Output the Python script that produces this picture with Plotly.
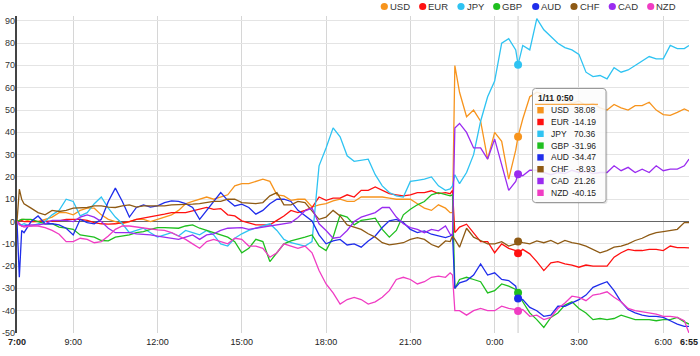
import plotly.graph_objects as go

# ---------------- data ----------------
time_labels = ["7:00", "7:05", "7:10", "7:15",
               "7:30", "7:45", "8:00", "8:15", "8:30", "8:45", "9:00", "9:15", "9:30", "9:45",
               "10:00", "10:15", "10:30", "10:45", "11:00", "11:15", "11:30", "11:45", "12:00", "12:15", "12:30", "12:45",
               "13:00", "13:15", "13:30", "13:45", "14:00", "14:15", "14:30", "14:45", "15:00", "15:15", "15:30", "15:45",
               "16:00", "16:15", "16:30", "16:45", "17:00", "17:15", "17:30", "17:45", "18:00", "18:15", "18:30", "18:45",
               "19:00", "19:15", "19:30", "19:45", "20:00", "20:15", "20:30", "20:45", "21:00", "21:15", "21:30", "21:45",
               "22:00", "22:15", "22:25", "22:30", "22:35", "22:45",
               "23:00", "23:15", "23:30", "23:45", "0:00", "0:15", "0:30", "0:45",
               "0:50",
               "1:00", "1:15", "1:30", "1:45", "2:00", "2:15", "2:30", "2:45", "3:00", "3:15", "3:30", "3:45",
               "4:00", "4:15", "4:30", "4:45", "5:00", "5:15", "5:30", "5:45", "6:00", "6:15", "6:30", "6:45",
               "6:55"]

currencies = ["USD", "EUR", "JPY", "GBP", "AUD", "CHF", "CAD", "NZD"]

USD = [0, 0.5, 1, 1,
       0, 0, 1, 2, 4, 4, 3, 5, 6, 6,
       3, 1, 0, -1, 0, 1, 1, 0, 1, 2, 3, 5,
       8, 9, 10, 11, 10, 11, 12, 16, 17, 17, 18, 19,
       18, 12, 11.5, 9.5, 10, 10, 6.5, 7.5, 8, 9.3, 10, 9,
       9, 11, 11, 11, 11, 10.5, 10, 10, 10, 8, 6, 5,
       7.5, 6, 4, 4, 70, 58,
       47, 50, 45, 28, 40, 36, 19, 32,
       38.08,
       46, 56, 58, 57, 55, 54, 55, 53, 54, 52, 53, 51,
       50, 52.5, 51, 50, 52, 52, 53.5, 50, 48, 47.6, 49, 50.5,
       49.5]

EUR = [0, 0, 0.5, 0,
       0, 0, 0, 0.3, 0.3, 1, 1, 1, 0.5, -0.5,
       -1, -1.2, -1, -0.5, 0, 1, 1.5, 2, 2.5, 3.3, 4, 4,
       4, 4.8, 5.5, 6.3, 5.5, 5.8, 3, 2.5, 0.3, -0.5, -1.5, -1.5,
       -1.5, 0.5, 2.5, 5, 4, 5, 6.3, 11, 9.5, 10.5, 10.5, 12,
       11, 14, 14, 15.5, 14, 12.5, 12, 11.5, 12, 13, 13, 13.8,
       12.5, 13, 12.5, 14, -5, -2.5,
       -1.2, -5, -9, -9, -14, -10, -12, -13,
       -14.19,
       -12.5, -14.5, -18, -22, -18.5, -18, -19, -19.5, -20.5, -19.5, -20, -20,
       -20, -16, -14, -12.5, -13, -13, -12.5, -12.5, -13, -11, -11.7, -11.7,
       -11.8]

JPY = [0, -1, -1.5, -1,
       -2, -1, 0, 3, 5, 10, 9, 2.5, 4, 8,
       11, 6, 2, -1, -5, -4, -3, -5, -7, -6, -5, -6.5,
       -4, -5, -6, -4, -6, -10, -11, -7.5, -5.5, -4, -3, -2,
       -1, -4, -8, -9.5, -10.3, -11, -9, 25, 33, 42, 38, 29.5,
       27, 27.5, 28, 21, 16, 13, 11.5, 11, 18, 18.5, 19, 20,
       16, 14, 14.6, 16, 21, 17,
       22, 30, 45, 56, 63, 80, 82, 77,
       70.36,
       79, 77, 91, 86, 83, 80, 78, 77, 75, 67, 65, 65.5,
       64, 69, 67, 68, 70, 72, 74, 73, 73, 79, 77.6, 77.6,
       79]

GBP = [0, 0.5, 1, 1,
       1, 0, -1, -1, -2.5, -3, -3.5, -6, -6.5, -7,
       -8.5, -8.7, -7, -6.5, -6, -5, -4.5, -3.5, -2.7, -2.7, -3, -3,
       -2, -1.5, -3, -4, -5, -6, -7, -9, -14, -12, -8, -9,
       -18, -14, -10, -8.7, -8, -7, -6, -11, -13, -7, 3, 2,
       -1.5, 0.5, 1, 1.5, -3.5, -7, -4, 3, 5.5, 7.5, 9, 12,
       13, 12, 11.5, 12, -30, -26,
       -25, -26, -27, -32, -31, -28, -29, -30.5,
       -31.96,
       -36, -41, -44, -47.5, -43, -41, -37.5, -36, -39, -41, -44, -43.5,
       -44, -43.5, -42, -43, -44, -44, -44, -44.5, -44, -44, -43, -45,
       -46]

AUD = [0, -25, -4, -5,
       0, 2.5, -1, -1, -1.5, -3, -6, 1, -0.5, -1,
       1, 9, 15, 9, 2, 6.3, 7.5, 6.5, 7, 8.5, 9.3, 9,
       8, 6.3, 1, 5, 9, 13, 9.5, 7, 7.8, 6.3, 3.3, 5,
       8, 10, 10, 9, 5, 2.5, 0.3, -6, -10, -8.7, -8, -10.5,
       -10, -11.5, -8.7, -6.5, -2.7, 0.3, 1, -0.5, -3.5, -5, -4.2, -5.7,
       -6.5, -7.2, -6.5, -5.7, -30, -27.5,
       -26.5, -24, -19, -24, -23, -26, -26.5, -29,
       -34.47,
       -35, -38.5, -40, -42.5, -42, -38, -38, -36.5, -35, -33, -29.5, -28.2,
       -27, -31, -36, -39.5, -41, -42, -42.5, -42.5, -43, -44.5, -46, -47,
       -47]

CHF = [0, 14.5, 10, 8,
       6, 4, 3, 5, 4.5, 5, 6, 6, 6.3, 7,
       7, 6.5, 6.3, 7, 7.5, 6.5, 7, 7, 7, 7, 7.5, 7.5,
       7.5, 7.8, 8, 8.5, 9, 9, 10, 10, 8.5, 8.3, 8, 8.5,
       11.5, 13, 7.5, 7.5, 9, 8.5, 5, 1, 2, 5, 2.5, -1.5,
       -2.5, -3.5, -5.5, -7, -9.5, -10.5, -10, -9.5, -8, -7.2, -8, -10.3,
       -11.5, -8.7, -9, -6.5, -8, -11.5,
       -3, -7, -8.5, -10, -10, -9, -11, -10,
       -8.93,
       -9.5, -10, -8.7, -9.5, -8.5, -10, -8.5, -9.5, -10, -11, -12.5, -14,
       -13, -11.5, -11, -10, -8.5, -7.5, -6, -5, -4.5, -4, -3.5, -0.5,
       -0.5]

CAD = [0, -1, -2, -2,
       -1.5, -1.5, -1, 0.5, 0.5, 0.5, 0, 2, 3, 2,
       0, -3, -5, -5, -5, -5.5, -5.7, -6, -6.5, -7, -7.5, -8,
       -7, -6, -8, -6, -5.5, -4, -3, -2.7, -2.7, -3.5, -3, -2.5,
       -2, -1.2, -1, -0.5, 1.8, 4.8, 6, -1, -4, -7.5, -7, -4,
       0, 2, 3, 4, 6.3, 6.3, 2, -1, -2.7, -3.5, -5, -3.5,
       -4.2, -2, -5.7, -6, 42, 44,
       40, 33, 33, 28, 37, 25, 14, 18,
       21.26,
       20.5, 23, 23, 22, 21, 22, 21.5, 23, 22, 22.5, 21.5, 22,
       22, 25, 22.8, 24.3, 22, 23.5, 22, 25, 22.8, 23.5, 23.5, 25,
       28]

NZD = [0, -1.5, -2, -2.5,
       -2, -2, -2.7, -4, -5.7, -9, -9, -7.5, -8, -9.5,
       -9, -6.5, -3.5, -2, -2, -2.5, -3, -3.5, -3.7, -4, -5, -6.5,
       -8, -10, -12, -9, -8, -9, -10, -7.5, -8, -11, -11, -12,
       -16, -14, -10, -11, -12, -11, -14, -22, -28, -32, -37, -35,
       -34, -35, -37, -36, -34, -31, -26, -25, -26, -28, -27, -25,
       -24.5, -25, -23, -24, -40, -40,
       -42, -40, -39, -40, -40, -38, -39, -39.5,
       -40.15,
       -39.5, -42.5, -42, -44, -43, -39, -36.5, -33.5, -34, -35.5, -33, -32.5,
       -31.5, -34, -36, -39, -40, -40.5, -41, -41.5, -42.5, -42.5, -43, -44.5,
       -50]

series = [USD, EUR, JPY, GBP, AUD, CHF, CAD, NZD]
colors = ["#F7941D", "#FF1010", "#2EC3F2", "#1FBF1F", "#1F2DEB", "#8E5A14", "#9A2BF0", "#F03CC3"]

x_tick_labels = ["7:00", "9:00", "12:00", "15:00", "18:00", "21:00", "0:00", "3:00", "6:00", "6:55"]
y_ticks = [-50, -40, -30, -20, -10, 0, 10, 20, 30, 40, 50, 60, 70, 80, 90]
hover_time = "0:50"
hover_title = "1/11 0:50"


def to_dt(s):
    h, m = map(int, s.split(":"))
    day = 10 if h >= 7 else 11
    return f"2023-01-{day:02d} {h:02d}:{m:02d}"


xs = [to_dt(t) for t in time_labels]
hi = time_labels.index(hover_time)

# --------------- figure ---------------
W, H = 700, 356
L, R, T, B = 17, 11, 16, 23
PW, PH = W - L - R, H - T - B
FONT = "Arial, Liberation Sans, sans-serif"


def px(xp):
    return (xp - L) / PW


def py(yp):
    return (H - B - yp) / PH


fig = go.Figure()
for name, vals, col in zip(currencies, series, colors):
    fig.add_trace(go.Scatter(x=xs, y=vals, mode="lines", name=name,
                             line=dict(color=col, width=1.3), hoverinfo="skip"))

fig.add_trace(go.Scatter(x=[xs[hi]] * len(series), y=[s[hi] for s in series], mode="markers",
                         marker=dict(color=colors, size=8), hoverinfo="skip", showlegend=False))

shapes = []
annotations = []
# crosshair
shapes.append(dict(type="line", xref="x", yref="paper", x0=xs[hi], x1=xs[hi], y0=0, y1=1,
                   line=dict(color="#c8c8c8", width=1), layer="below"))

# y tick labels
for v in y_ticks:
    annotations.append(dict(xref="paper", yref="y", x=px(15.5), y=v, text=str(v), showarrow=False,
                            xanchor="right", yanchor="middle", font=dict(size=9, color="#333"), borderpad=0))

# legend (circles + text)
leg_cx = [384.3, 422.7, 461.0, 496.7, 535.7, 574.0, 612.3, 650.7]
leg_y = 6.5
for cx, name, col in zip(leg_cx, currencies, colors):
    shapes.append(dict(type="circle", xref="paper", yref="paper", xsizemode="pixel", ysizemode="pixel",
                       xanchor=px(cx), yanchor=py(leg_y), x0=-3.6, x1=3.6, y0=-3.6, y1=3.6,
                       fillcolor=col, line=dict(width=0)))
    annotations.append(dict(xref="paper", yref="paper", x=px(cx + 4.5), y=py(leg_y), text=name,
                            showarrow=False, xanchor="left", yanchor="middle",
                            font=dict(size=9.5, color="#333"), borderpad=0))

# tooltip box
bx0, bx1, by0, by1, rr = 532.5, 606.0, 88.5, 202.5, 3.0


def rounded(x0, x1, y0, y1, r):
    X0, X1 = px(x0), px(x1)
    Yt, Yb = py(y0), py(y1)
    rx, ry = r / PW, r / PH
    return (f"M {X0+rx},{Yt} L {X1-rx},{Yt} Q {X1},{Yt} {X1},{Yt-ry} "
            f"L {X1},{Yb+ry} Q {X1},{Yb} {X1-rx},{Yb} L {X0+rx},{Yb} "
            f"Q {X0},{Yb} {X0},{Yb+ry} L {X0},{Yt-ry} Q {X0},{Yt} {X0+rx},{Yt} Z")


shapes.append(dict(type="path", xref="paper", yref="paper", path=rounded(bx0 + 1.5, bx1 + 1.5, by0 + 1.5, by1 + 1.5, rr),
                   fillcolor="rgba(0,0,0,0.10)", line=dict(width=0), layer="above"))
shapes.append(dict(type="path", xref="paper", yref="paper", path=rounded(bx0, bx1, by0, by1, rr),
                   fillcolor="rgba(255,255,255,0.86)", line=dict(color="#9a9a9a", width=1), layer="above"))
shapes.append(dict(type="line", xref="paper", yref="paper", x0=px(535), x1=px(598), y0=py(104.3), y1=py(104.3),
                   line=dict(color=colors[0], width=1), layer="above"))

annotations.append(dict(xref="paper", yref="paper", x=px(536.5), y=py(98.3), text=f"<b>{hover_title}</b>",
                        showarrow=False, xanchor="left", yanchor="middle",
                        font=dict(size=8.5, color="#222"), borderpad=0))
row_y0, row_dy = 110.2, 11.8
for i, (name, vals, col) in enumerate(zip(currencies, series, colors)):
    ry_ = row_y0 + i * row_dy
    shapes.append(dict(type="rect", xref="paper", yref="paper", xsizemode="pixel", ysizemode="pixel",
                       xanchor=px(540.5), yanchor=py(ry_), x0=-3.2, x1=3.2, y0=-3.2, y1=3.2,
                       fillcolor=col, line=dict(width=0), layer="above"))
    annotations.append(dict(xref="paper", yref="paper", x=px(550), y=py(ry_), text=name,
                            showarrow=False, xanchor="left", yanchor="middle",
                            font=dict(size=8.5, color="#222"), borderpad=0))
    annotations.append(dict(xref="paper", yref="paper", x=px(597), y=py(ry_), text=f"{vals[hi]:.2f}",
                            showarrow=False, xanchor="right", yanchor="middle",
                            font=dict(size=8.5, color="#222"), borderpad=0))

tickvals = [to_dt(t) for t in x_tick_labels]
ticktext = [f"<b>{t}</b>" if i in (0, len(x_tick_labels) - 1) else t for i, t in enumerate(x_tick_labels)]

fig.update_layout(
    width=W, height=H,
    margin=dict(l=L, r=R, t=T, b=B, autoexpand=False),
    paper_bgcolor="white", plot_bgcolor="white",
    showlegend=False,
    font=dict(family=FONT, size=9, color="#333"),
    shapes=shapes, annotations=annotations,
    xaxis=dict(type="date", range=[to_dt("7:00"), to_dt("6:55")], tickvals=tickvals, ticktext=ticktext,
               showgrid=True, gridcolor="#d6d6d6", gridwidth=1, zeroline=False, showline=False,
               ticks="", ticklabelstandoff=2, tickfont=dict(size=9, color="#222"),
               automargin=False, fixedrange=True),
    yaxis=dict(range=[-50, 92.2], tickvals=y_ticks, showticklabels=False,
               showgrid=True, gridcolor="#e4e4e4", gridwidth=1,
               zeroline=True, zerolinecolor="#666", zerolinewidth=1,
               showline=True, linecolor="#444", linewidth=2,
               ticks="", automargin=False, fixedrange=True),
)

fig.write_html("out.html", config={"displayModeBar": False, "staticPlot": True},
               post_script="document.body.style.margin='0px';document.body.style.padding='0px';")
